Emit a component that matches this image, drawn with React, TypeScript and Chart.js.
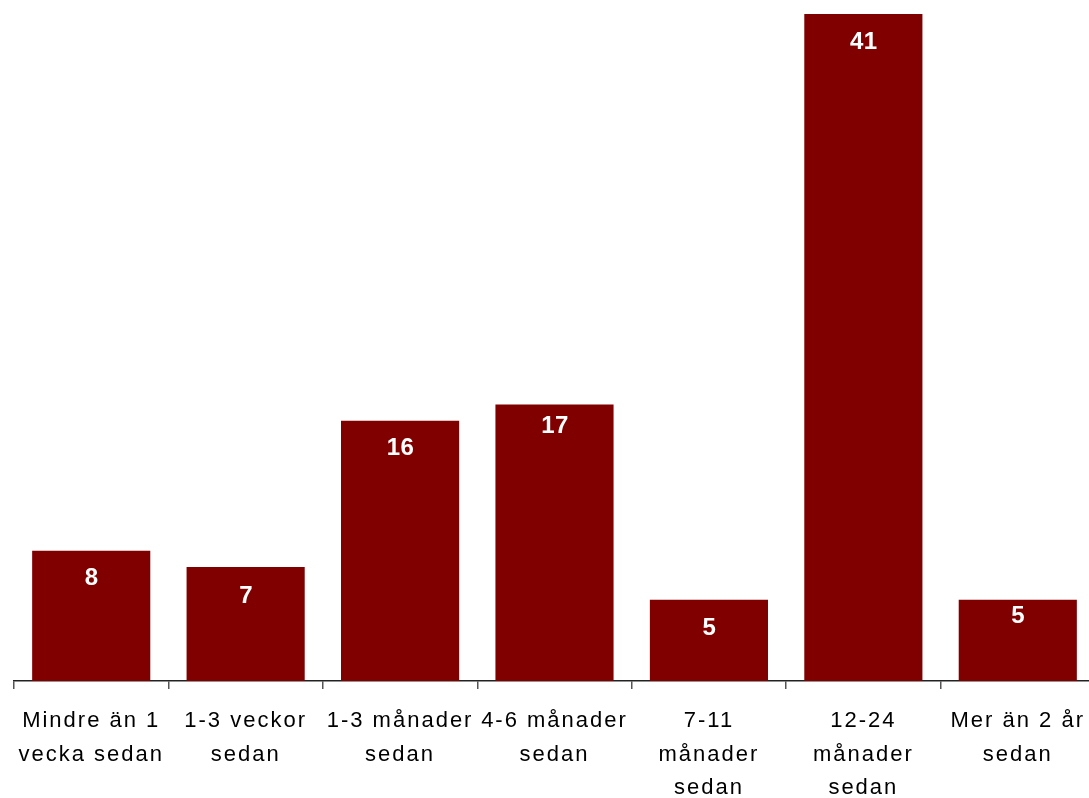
import React, { useEffect, useRef } from "react";
import { Chart, registerables } from "chart.js";

Chart.register(...registerables);

// Time since last visit, share of respondents (%)
const categories: string[][] = [
  ["Mindre än 1", "vecka sedan"],
  ["1-3 veckor", "sedan"],
  ["1-3 månader", "sedan"],
  ["4-6 månader", "sedan"],
  ["7-11", "månader", "sedan"],
  ["12-24", "månader", "sedan"],
  ["Mer än 2 år", "sedan"],
];
const values: number[] = [8, 7, 16, 17, 5, 41, 5];

// How far below each bar's top its value label sits (px)
const labelDrop: number[] = [26, 27, 26, 20, 27, 26, 15];

const BAR_COLOR = "#800000";
const FONT_FAMILY = "'Liberation Sans', Arial, sans-serif";

const spacingPlugin = {
  id: "letterSpacing",
  beforeDraw(chart: any) {
    chart.ctx.letterSpacing = "2px";
  },
};

const valueLabels = {
  id: "valueLabels",
  afterDatasetsDraw(chart: any) {
    const ctx = chart.ctx;
    const meta = chart.getDatasetMeta(0);
    ctx.save();
    ctx.letterSpacing = "0.5px";
    ctx.font = `bold 24px ${FONT_FAMILY}`;
    ctx.fillStyle = "#ffffff";
    ctx.textAlign = "center";
    ctx.textBaseline = "alphabetic";
    meta.data.forEach((bar: any, i: number) => {
      const text = String(values[i]);
      const x = bar.x + 0.5;
      const y = bar.y + labelDrop[i] + 8.6;
      ctx.fillText(text, x, y);
    });
    ctx.restore();
  },
};

export default function App() {
  const canvasRef = useRef<HTMLCanvasElement | null>(null);

  useEffect(() => {
    if (!canvasRef.current) return;
    const chart = new Chart(canvasRef.current, {
      type: "bar",
      data: {
        labels: categories,
        datasets: [
          {
            data: values,
            backgroundColor: BAR_COLOR,
            borderWidth: 0,
            categoryPercentage: 1,
            barPercentage: 0.765,
          },
        ],
      },
      options: {
        animation: false,
        responsive: false,
        layout: { padding: { left: 14, right: 6, top: 14, bottom: 0 } },
        plugins: {
          legend: { display: false },
          tooltip: { enabled: false },
        },
        scales: {
          x: {
            type: "category",
            offset: true,
            grid: {
              offset: true,
              drawOnChartArea: false,
              drawTicks: true,
              tickLength: 8,
              color: "#555555",
              lineWidth: 1.5,
            },
            border: { display: true, color: "#222222", width: 1.5 },
            ticks: {
              autoSkip: false,
              maxRotation: 0,
              minRotation: 0,
              padding: 15,
              color: "#000000",
              font: { family: FONT_FAMILY, size: 22, lineHeight: 1.53 },
            },
            afterFit: (scale: any) => {
              scale.height = 117;
            },
          },
          y: {
            display: false,
            min: 0,
            max: 41,
          },
        },
      },
      plugins: [spacingPlugin, valueLabels],
    });
    return () => chart.destroy();
  }, []);

  return (
    <div
      style={{
        position: "fixed",
        left: 0,
        top: 0,
        width: 1089,
        height: 798,
        overflow: "hidden",
        background: "#ffffff",
      }}
    >
      <canvas
        ref={canvasRef}
        width={1101}
        height={798}
        style={{ display: "block", width: 1101, height: 798 }}
      />
    </div>
  );
}
